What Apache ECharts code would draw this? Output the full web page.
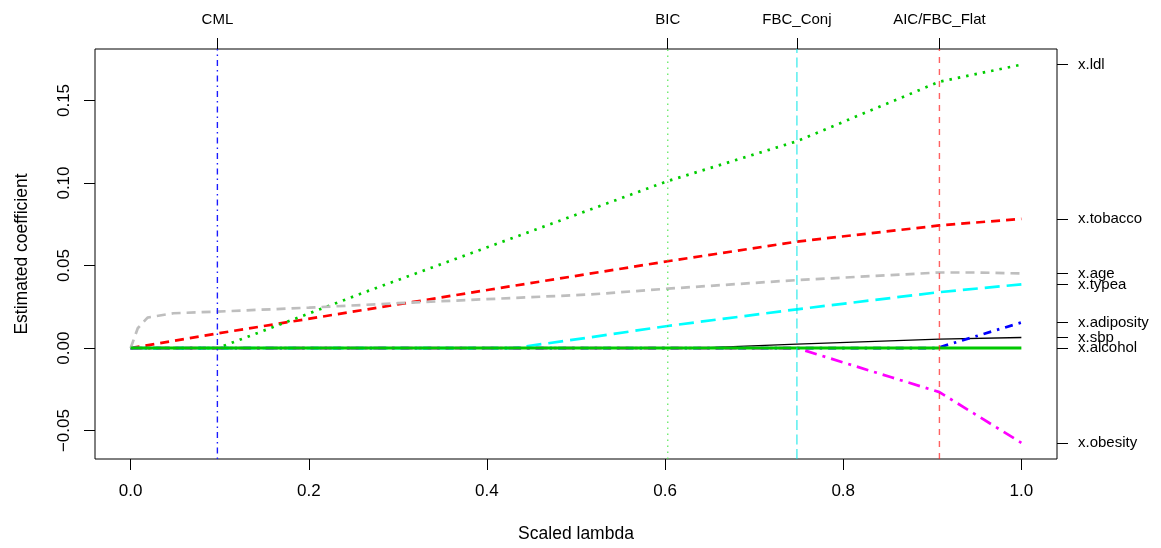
<!DOCTYPE html>
<html>
<head>
<meta charset="utf-8">
<script src="https://cdn.jsdelivr.net/npm/echarts@6/dist/echarts.min.js"></script>
<style>
  html, body { margin: 0; padding: 0; background: #fff; }
  #chart { width: 1161px; height: 548px; }
</style>
</head>
<body>
<div id="chart"></div>
<script>
// Coefficient paths along the scaled penalty (knots of each piecewise-linear path)
const sbpLambda = [0, 0.633, 0.748, 0.908, 1.0];
const sbpCoef   = [0, 0, 0.0024, 0.0054, 0.0064];

const tobaccoLambda = [0, 0.097, 0.404, 0.603, 0.748, 0.908, 1.0];
const tobaccoCoef   = [0, 0.0088, 0.0355, 0.0526, 0.0645, 0.0743, 0.0783];

const ldlLambda = [0, 0.098, 0.266, 0.528, 0.603, 0.748, 0.908, 1.0];
const ldlCoef   = [0, 0, 0.0345, 0.0863, 0.1012, 0.1253, 0.1614, 0.1717];

const adiposityLambda = [0, 0.905, 1.0];
const adiposityCoef   = [0, 0, 0.0155];

const typeaLambda = [0, 0.43, 0.517, 0.603, 0.748, 0.908, 1.0];
const typeaCoef   = [0, 0, 0.0066, 0.0134, 0.0235, 0.0339, 0.0386];

const obesityLambda = [0, 0.748, 0.854, 0.908, 1.0];
const obesityCoef   = [0, 0, -0.0177, -0.0267, -0.0574];

const alcoholLambda = [0, 1.0];
const alcoholCoef   = [0, 0];

const ageLambda = [0, 0.008, 0.019, 0.048, 0.097, 0.2, 0.3, 0.517, 0.603, 0.748, 0.908, 0.95, 1.0];
const ageCoef   = [0, 0.012, 0.0185, 0.0211, 0.0221, 0.0245, 0.0272, 0.0325, 0.036, 0.0412, 0.0458, 0.0458, 0.0452];

// Selected penalties for each criterion
const modelNames  = ['CML', 'BIC', 'FBC_Conj', 'AIC/FBC_Flat'];
const modelLambda = [0.0974, 0.603, 0.748, 0.908];

// Axis ticks
const xTicks = [0, 0.2, 0.4, 0.6, 0.8, 1.0];
const yTicks = [-0.05, 0, 0.05, 0.10, 0.15];
const X_MIN = -0.04, X_MAX = 1.04;
const Y_MIN = -0.0672, Y_MAX = 0.1812;

const FONT = '"Liberation Sans", Arial, Helvetica, sans-serif';

const paths = [
  { name: 'x.sbp',       lam: sbpLambda,       coef: sbpCoef,       color: '#000000', width: 1.3, dash: 'solid' },
  { name: 'x.tobacco',   lam: tobaccoLambda,   coef: tobaccoCoef,   color: '#FF0000', width: 2.7, dash: [9, 6] },
  { name: 'x.ldl',       lam: ldlLambda,       coef: ldlCoef,       color: '#00CD00', width: 2.7, dash: [2.5, 6] },
  { name: 'x.adiposity', lam: adiposityLambda, coef: adiposityCoef, color: '#0000FF', width: 2.7, dash: [8, 6, 2.5, 6] },
  { name: 'x.typea',     lam: typeaLambda,     coef: typeaCoef,     color: '#00FFFF', width: 2.7, dash: [15, 7] },
  { name: 'x.obesity',   lam: obesityLambda,   coef: obesityCoef,   color: '#FF00FF', width: 2.7, dash: [12, 6, 3, 6] },
  { name: 'x.age',       lam: ageLambda,       coef: ageCoef,       color: '#BEBEBE', width: 2.7, dash: [9, 6] },
  { name: 'x.alcohol',   lam: alcoholLambda,   coef: alcoholCoef,   color: '#00C800', width: 3, dash: 'solid' }
];

const vlineStyles = [
  { color: '#1a1aff',              dash: [1.5, 4, 6, 4] },
  { color: 'rgba(60,230,60,0.75)', dash: [1.5, 4.5] },
  { color: 'rgba(0,230,230,0.7)',  dash: [10, 4.5] },
  { color: 'rgba(255,30,30,0.7)',  dash: [6, 6] }
];

const endNames  = paths.map(p => p.name);
const endValues = paths.map(p => p.coef[p.coef.length - 1]);

function fmtY(v) {
  return v.toFixed(2).replace('-', '\u2212');
}

const series = [];
paths.forEach(p => {
  series.push({
    name: p.name,
    type: 'line',
    xAxisIndex: 0,
    yAxisIndex: 0,
    data: p.lam.map((l, i) => [l, p.coef[i]]),
    showSymbol: false,
    symbol: 'none',
    silent: true,
    animation: false,
    lineStyle: { color: p.color, width: p.width, type: p.dash, cap: 'butt' }
  });
});
modelLambda.forEach((l, i) => {
  series.push({
    name: modelNames[i],
    type: 'line',
    xAxisIndex: 0,
    yAxisIndex: 0,
    data: [[l, Y_MIN], [l, Y_MAX]],
    showSymbol: false,
    symbol: 'none',
    silent: true,
    animation: false,
    lineStyle: { color: vlineStyles[i].color, width: 1.4, type: vlineStyles[i].dash }
  });
});

const chart = echarts.init(document.getElementById('chart'), null, { renderer: 'canvas' });
chart.setOption({
  backgroundColor: '#ffffff',
  animation: false,
  grid: {
    left: 95, right: 104, top: 49, bottom: 88,
    show: true, borderColor: '#000', borderWidth: 1, backgroundColor: 'transparent'
  },
  xAxis: [
    {
      type: 'value', position: 'bottom', min: X_MIN, max: X_MAX,
      axisLine: { show: false, onZero: false },
      splitLine: { show: false },
      axisTick: { show: true, length: 11, customValues: xTicks, lineStyle: { color: '#000', width: 1 } },
      axisLabel: {
        show: true, customValues: xTicks, margin: 24, color: '#000',
        fontFamily: FONT, fontSize: 17, formatter: v => v.toFixed(1)
      },
      name: 'Scaled lambda', nameLocation: 'middle', nameGap: 66,
      nameTextStyle: { color: '#000', fontFamily: FONT, fontSize: 17.5 }
    },
    {
      type: 'value', position: 'top', min: X_MIN, max: X_MAX,
      axisLine: { show: false, onZero: false },
      splitLine: { show: false },
      axisTick: { show: true, length: 11, customValues: modelLambda, lineStyle: { color: '#000', width: 1 } },
      axisLabel: {
        show: true, customValues: modelLambda, margin: 22, color: '#000',
        fontFamily: FONT, fontSize: 15,
        formatter: v => {
          const i = modelLambda.findIndex(m => Math.abs(m - v) < 1e-9);
          return i >= 0 ? modelNames[i] : '';
        }
      }
    }
  ],
  yAxis: [
    {
      type: 'value', position: 'left', min: Y_MIN, max: Y_MAX,
      axisLine: { show: false, onZero: false },
      splitLine: { show: false },
      axisTick: { show: true, length: 11, customValues: yTicks, lineStyle: { color: '#000', width: 1 } },
      axisLabel: {
        show: true, customValues: yTicks, margin: 22, rotate: 90, color: '#000',
        fontFamily: FONT, fontSize: 17, formatter: fmtY
      },
      name: 'Estimated coefficient', nameLocation: 'middle', nameGap: 64, nameRotate: 90,
      nameTextStyle: { color: '#000', fontFamily: FONT, fontSize: 17.5 }
    },
    {
      type: 'value', position: 'right', min: Y_MIN, max: Y_MAX,
      axisLine: { show: false, onZero: false },
      splitLine: { show: false },
      axisTick: { show: true, length: 11, customValues: endValues, lineStyle: { color: '#000', width: 1 } },
      axisLabel: {
        show: true, customValues: endValues, margin: 21, color: '#000',
        fontFamily: FONT, fontSize: 15, hideOverlap: false,
        formatter: v => {
          const i = endValues.findIndex(e => Math.abs(e - v) < 1e-9);
          return i >= 0 ? endNames[i] : '';
        }
      }
    }
  ],
  series: series
});
</script>
</body>
</html>
